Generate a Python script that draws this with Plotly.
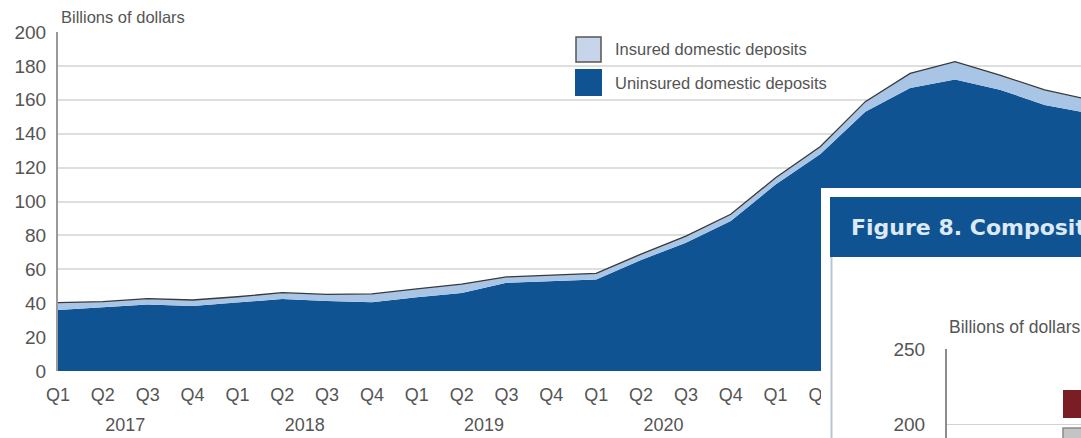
import plotly.graph_objects as go

# ---------------- data (billions of dollars) ----------------
quarters = ["Q1", "Q2", "Q3", "Q4"] * 6
year_names = ["2017", "2018", "2019", "2020", "2021", "2022"]
uninsured = [36, 37.5, 39.3, 38.3, 40.3, 42.5, 41.3, 40.5, 43.5, 46, 52, 53,
             54, 65.5, 75.7, 88.5, 110, 128, 153, 167, 172, 166, 157, 152]
insured = [4.3, 3.4, 3.4, 3.6, 3.5, 3.7, 3.9, 5.0, 5.0, 5.3, 3.5, 3.6,
           3.6, 3.5, 3.9, 4.0, 4.0, 4.5, 5.9, 8.6, 10.5, 8.6, 8.8, 8.0]
series_names = ["Uninsured domestic deposits", "Insured domestic deposits"]
y_ticks = list(range(0, 201, 20))
inset_ticks = [200, 250]

# ---------------- styling ----------------
W, H = 1081, 438
ML, MT = 58, 32
DARK = "#0f5392"
LIGHT = "#a9c5e6"
EDGE = "#3a3a3a"
TXT = "#555555"
GRID = "#dedede"
FONT = "Liberation Sans"


def px_x(px):
    return (px - ML) / (W - ML)


def px_y(py):
    return (H - py) / (H - MT)


qpos = list(range(len(quarters)))                       # one slot per quarter
year_pos = [4 * i + 1.5 for i in range(len(year_names))]  # centre of each year
XR = [0, 22.81]

fig = go.Figure()
fig.add_trace(go.Scatter(
    x=qpos, y=uninsured, name=series_names[0], stackgroup="dep", mode="lines",
    line=dict(width=0, color=DARK), fillcolor=DARK, showlegend=False,
    hoverinfo="skip"))
fig.add_trace(go.Scatter(
    x=qpos, y=insured, name=series_names[1], stackgroup="dep", mode="lines",
    line=dict(width=1.3, color=EDGE), fillcolor=LIGHT, showlegend=False,
    hoverinfo="skip"))
# year axis overlay + placeholder traces for the overlapping (cut-off) inset figure
fig.add_trace(go.Scatter(x=[], y=[], xaxis="x4", yaxis="y", showlegend=False, hoverinfo="skip"))
fig.add_trace(go.Scatter(x=[], y=[], xaxis="x2", yaxis="y2", showlegend=False, hoverinfo="skip"))
fig.add_trace(go.Scatter(x=[], y=[], xaxis="x3", yaxis="y3", showlegend=False, hoverinfo="skip"))

# inset geometry (pixels of the screenshot)
FR_L, FR_T = 821, 188          # white frame of the inset
AX3_X, AX3_TOP = 947, 349       # inset y-axis line and its top (250)
y3_bottom = 250 - (H - AX3_TOP) / 1.5


def f2x(px):
    return (px - FR_L) / (W - FR_L)


def f2y(py):
    return (H - py) / (H - FR_T)


def f3x(px):
    return (px - AX3_X) / (W - AX3_X)


def f3y(py):
    return 250 - (py - AX3_TOP) / 1.5


shapes = [
    # inset frame, drawn inside the inset subplot so that it covers the main chart
    dict(type="rect", xref="x2", yref="y2", layer="below", x0=0, x1=1.05, y0=-0.05, y1=1,
         fillcolor="white", line=dict(width=0)),
    dict(type="rect", xref="x2", yref="y2", layer="below", x0=f2x(830), x1=1.05,
         y0=f2y(257), y1=f2y(197), fillcolor=DARK, line=dict(width=0)),
    dict(type="line", xref="x2", yref="y2", layer="below", x0=f2x(831.5), x1=f2x(831.5),
         y0=-0.05, y1=f2y(257), line=dict(color="#b7c4d2", width=2)),
    # inset legend swatches
    dict(type="rect", xref="x3", yref="y3", layer="above", x0=f3x(1063), x1=1.1,
         y0=f3y(418), y1=f3y(390), fillcolor="#7b1d24", line=dict(width=0)),
    dict(type="rect", xref="x3", yref="y3", layer="above", x0=f3x(1063), x1=1.1,
         y0=f3y(445), y1=f3y(428), fillcolor="#c4c4c4", line=dict(width=1.5, color="#8a8a8a")),
    # main legend swatches
    dict(type="rect", xref="paper", yref="paper", layer="above", x0=px_x(576), x1=px_x(601),
         y0=px_y(62), y1=px_y(37), fillcolor="#c7d5ea", line=dict(width=1.5, color="#555555")),
    dict(type="rect", xref="paper", yref="paper", layer="above", x0=px_x(575), x1=px_x(602),
         y0=px_y(96), y1=px_y(69), fillcolor=DARK, line=dict(width=0)),
]

annotations = [
    dict(text="Billions of dollars", xref="paper", yref="paper", x=px_x(59), y=px_y(17),
         xanchor="left", yanchor="middle", showarrow=False,
         font=dict(family=FONT, size=16.5, color=TXT)),
    dict(text=series_names[1], xref="paper", yref="paper", x=px_x(613), y=px_y(49),
         xanchor="left", yanchor="middle", showarrow=False,
         font=dict(family=FONT, size=16.5, color=TXT)),
    dict(text=series_names[0], xref="paper", yref="paper", x=px_x(613), y=px_y(83),
         xanchor="left", yanchor="middle", showarrow=False,
         font=dict(family=FONT, size=16.5, color=TXT)),
    dict(text="<b>Figure 8. Composition</b>", xref="paper", yref="paper", x=px_x(849), y=px_y(227),
         xanchor="left", yanchor="middle", showarrow=False,
         font=dict(family="DejaVu Sans", size=22, color="#dde9f4")),
    dict(text="Billions of dollars", xref="paper", yref="paper", x=px_x(947), y=px_y(327),
         xanchor="left", yanchor="middle", showarrow=False,
         font=dict(family=FONT, size=17.5, color=TXT)),
]

fig.update_layout(
    width=W, height=H, autosize=False,
    margin=dict(l=ML, r=0, t=MT, b=0, pad=0, autoexpand=False),
    paper_bgcolor="white", plot_bgcolor="white",
    font=dict(family=FONT, color=TXT),
    showlegend=False,
    shapes=shapes, annotations=annotations,
    xaxis=dict(domain=[0, 1], anchor="y", range=XR, tickvals=qpos, ticktext=quarters,
               automargin=False, showgrid=False, zeroline=False, showline=False, ticks="",
               ticklabelstandoff=11, tickfont=dict(size=18, color=TXT, family=FONT)),
    xaxis4=dict(overlaying="x", anchor="y", side="bottom", range=XR, tickvals=year_pos,
                ticktext=year_names, automargin=False, showgrid=False, zeroline=False,
                showline=False, ticks="", ticklabelstandoff=41,
                tickfont=dict(size=18, color=TXT, family=FONT)),
    yaxis=dict(domain=[px_y(371), 1], anchor="x", range=[0, 200], tickvals=y_ticks,
               automargin=False, showgrid=True, gridcolor=GRID, gridwidth=1.5, zeroline=False,
               showline=True, linecolor="#9a9a9a", linewidth=2, ticks="",
               ticklabelstandoff=6, tickfont=dict(size=19, color=TXT, family=FONT)),
    xaxis2=dict(domain=[px_x(FR_L), 1], anchor="y2", range=[0, 1], visible=False, automargin=False),
    yaxis2=dict(domain=[0, px_y(FR_T)], anchor="x2", range=[0, 1], visible=False, automargin=False),
    xaxis3=dict(domain=[px_x(AX3_X), 1], anchor="y3", range=[0, 1], visible=False, automargin=False),
    yaxis3=dict(domain=[0, px_y(AX3_TOP)], anchor="x3", range=[y3_bottom, 250],
                tickvals=inset_ticks, showgrid=True, gridcolor="#d2d2d2", gridwidth=1.2,
                automargin=False, zeroline=False, showline=True, linecolor="#8c8c8c",
                linewidth=2, ticks="", ticklabelstandoff=16,
                tickfont=dict(size=19, color=TXT, family=FONT)),
)

fig.write_html("out.html", config={"displayModeBar": False},
               post_script="document.body.style.margin='0';")
